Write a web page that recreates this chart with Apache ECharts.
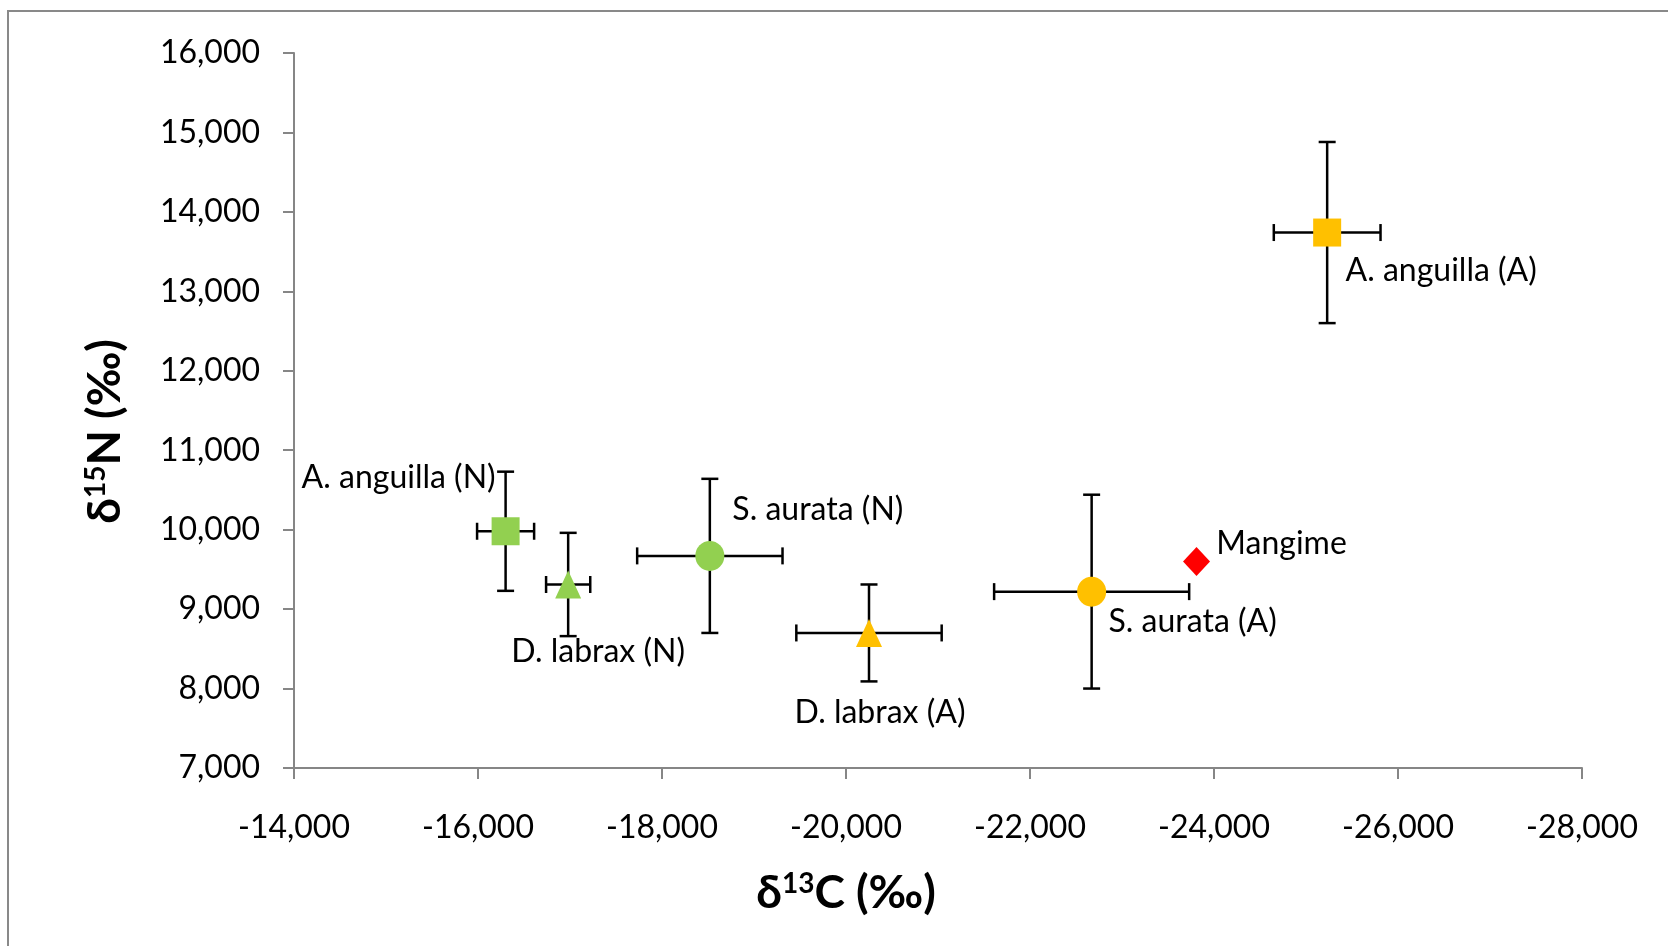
<!DOCTYPE html>
<html>
<head>
<meta charset="utf-8">
<script src="https://cdn.jsdelivr.net/npm/echarts@6/dist/echarts.min.js"></script>
<style>
  html, body { margin: 0; padding: 0; background: #fff; }
  #chart { width: 1668px; height: 946px; }
</style>
</head>
<body>
<div id="chart"></div>
<script>
// dati: delta13C / delta15N con deviazione standard
const names = ['A. anguilla (N)', 'D. labrax (N)', 'S. aurata (N)', 'D. labrax (A)', 'S. aurata (A)', 'Mangime', 'A. anguilla (A)'];
const d13C = [-16300, -16980, -18520, -20250, -22670, -23810, -25230];
const d15N = [9980, 9310, 9670, 8700, 9220, 9600, 13740];
const errC = [310, 240, 790, 790, 1060, 0, 580];
const errN = [750, 650, 970, 610, 1220, 0, 1140];
const xTicks = { min: -28000, max: -14000, step: 2000 };
const yTicks = { min: 7000, max: 16000, step: 1000 };

// stile dei marker (colore, forma) e posizione delle etichette
const colors = ['#92D050', '#92D050', '#92D050', '#FFC000', '#FFC000', '#FF0000', '#FFC000'];
const symbols = ['rect', 'triangle', 'circle', 'triangle', 'circle', 'diamond', 'rect'];
const sizes = [[28, 28], [26, 28], [29, 30], [26, 28], [29, 30], [27, 29], [28, 28]];
const labelOffsets = [[-107, -54], [30, 67], [108, -46], [11, 80], [101, 30], [85, -18], [114, 38]];

const FONT = 'Lato, "Noto Sans", sans-serif';
const fmt = v => v.toLocaleString('en-US');

const chart = echarts.init(document.getElementById('chart'));

const errData = d13C.map((x, i) => [x, d15N[i], errC[i], errN[i]]);
const pointData = d13C.map((x, i) => ({
  value: [x, d15N[i]],
  name: names[i],
  symbol: symbols[i],
  symbolSize: sizes[i],
  itemStyle: { color: colors[i], opacity: 1 },
  label: { offset: labelOffsets[i] }
}));

function renderErr(params, api) {
  const x = api.value(0), y = api.value(1), ex = api.value(2), ey = api.value(3);
  const cap = 8.5;
  const style = { stroke: '#000', lineWidth: 2.5 };
  const children = [];
  if (ex) {
    const a = api.coord([x - ex, y]), b = api.coord([x + ex, y]);
    children.push({ type: 'line', shape: { x1: a[0], y1: a[1], x2: b[0], y2: b[1] }, style });
    children.push({ type: 'line', shape: { x1: a[0], y1: a[1] - cap, x2: a[0], y2: a[1] + cap }, style });
    children.push({ type: 'line', shape: { x1: b[0], y1: b[1] - cap, x2: b[0], y2: b[1] + cap }, style });
  }
  if (ey) {
    const a = api.coord([x, y + ey]), b = api.coord([x, y - ey]);
    children.push({ type: 'line', shape: { x1: a[0], y1: a[1], x2: b[0], y2: b[1] }, style });
    children.push({ type: 'line', shape: { x1: a[0] - cap, y1: a[1], x2: a[0] + cap, y2: a[1] }, style });
    children.push({ type: 'line', shape: { x1: b[0] - cap, y1: b[1], x2: b[0] + cap, y2: b[1] }, style });
  }
  return { type: 'group', children };
}

const richTitle = {
  b: { fontSize: 46, fontWeight: 'bold', fontFamily: FONT, color: '#000' },
  sup: { fontSize: 28, fontWeight: 'bold', fontFamily: FONT, color: '#000', verticalAlign: 'top', padding: [0, 0, 16, 0] }
};

const axisCommon = {
  type: 'value',
  splitLine: { show: false },
  axisLine: { show: true, lineStyle: { color: '#868686', width: 2 } },
  axisTick: { show: true, inside: false, length: 11, lineStyle: { color: '#868686', width: 2 } },
  axisLabel: { color: '#000', fontSize: 32, fontFamily: FONT, formatter: fmt }
};

const option = {
  backgroundColor: '#fff',
  animation: false,
  graphic: [{
    type: 'rect', silent: true, z: -10,
    shape: { x: 8, y: 11, width: 1700, height: 1000 },
    style: { fill: 'none', stroke: '#898989', lineWidth: 2 }
  }],
  grid: { left: 294, right: 86, top: 53, bottom: 178 },
  xAxis: Object.assign({}, axisCommon, {
    min: xTicks.min, max: xTicks.max, interval: xTicks.step,
    inverse: true,
    name: '{b|δ}{sup|13}{b|C (‰)}',
    nameLocation: 'middle',
    nameGap: 102,
    nameTextStyle: { color: '#000', fontSize: 46, fontWeight: 'bold', fontFamily: FONT, padding: [0, 184, 0, 0], rich: richTitle },
    axisLabel: Object.assign({}, axisCommon.axisLabel, { margin: 44 })
  }),
  yAxis: Object.assign({}, axisCommon, {
    min: yTicks.min, max: yTicks.max, interval: yTicks.step,
    name: '{b|δ}{sup|15}{b|N (‰)}',
    nameLocation: 'middle',
    nameRotate: 90,
    nameGap: 166,
    nameTextStyle: { color: '#000', fontSize: 46, fontWeight: 'bold', fontFamily: FONT, padding: [0, 42, 0, 0], rich: richTitle },
    axisLabel: Object.assign({}, axisCommon.axisLabel, { margin: 34 })
  }),
  series: [
    {
      type: 'custom',
      renderItem: renderErr,
      data: errData,
      encode: { x: 0, y: 1 },
      z: 2,
      silent: true
    },
    {
      type: 'scatter',
      data: pointData,
      z: 5,
      label: {
        show: true,
        position: 'inside',
        formatter: p => p.name,
        color: '#000',
        fontSize: 32,
        fontFamily: FONT,
        textBorderWidth: 0
      }
    }
  ]
};

chart.setOption(option);
</script>
</body>
</html>
